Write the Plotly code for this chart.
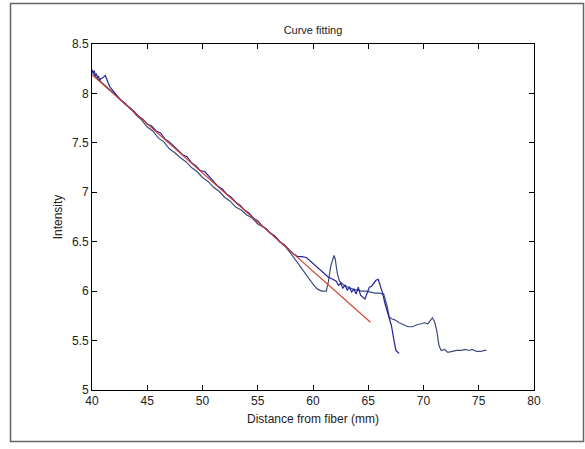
import plotly.graph_objects as go

# Fitted line
x_fit = [40.0, 65.2]
y_fit = [8.19, 5.685]

# Measured curve 1 (navy)
x1 = [40.0, 40.1, 40.2, 40.3, 40.4, 40.5, 40.6, 40.7, 40.8, 41.0, 41.2, 41.4, 41.6, 41.8,
      42.0, 42.3, 42.6, 43.0, 43.4, 43.8, 44.2, 44.6, 45.0, 45.4, 45.8, 46.2, 46.6, 47.0,
      47.4, 47.8, 48.2, 48.6, 49.0, 49.4, 49.8, 50.2, 50.6, 51.0, 51.4, 51.8, 52.2, 52.6,
      53.0, 53.4, 53.8, 54.2, 54.6, 55.0, 55.4, 55.8, 56.2, 56.6, 57.0, 57.4, 57.8, 58.2,
      58.6, 59.0, 59.4, 59.8, 60.2, 60.6, 61.0, 61.4, 61.8, 62.1, 62.3, 62.5, 62.7, 62.9,
      63.1, 63.3, 63.5, 63.7, 63.9, 64.1, 64.3, 64.5, 64.7, 64.9, 65.1, 65.3, 65.5, 65.7,
      65.9, 66.1, 66.3, 66.5, 66.7, 66.9, 67.1, 67.3, 67.5, 67.7, 67.8]
y1 = [8.24, 8.21, 8.23, 8.18, 8.20, 8.16, 8.17, 8.13, 8.15, 8.16, 8.18, 8.12, 8.07, 8.04,
      8.01, 7.97, 7.93, 7.90, 7.85, 7.82, 7.77, 7.74, 7.69, 7.67, 7.62, 7.60, 7.54, 7.51,
      7.47, 7.43, 7.38, 7.36, 7.30, 7.27, 7.22, 7.21, 7.16, 7.12, 7.06, 7.03, 6.98, 6.95,
      6.90, 6.87, 6.82, 6.79, 6.74, 6.71, 6.66, 6.63, 6.58, 6.55, 6.50, 6.47, 6.42, 6.38,
      6.35, 6.35, 6.34, 6.30, 6.26, 6.22, 6.18, 6.14, 6.12, 6.10, 6.06, 6.08, 6.03, 6.06,
      6.01, 6.04, 5.99, 6.02, 5.97, 6.04, 5.96, 5.94, 5.92, 5.98, 6.04, 6.05, 6.08, 6.11,
      6.12, 6.06, 5.98, 5.88, 5.80, 5.74, 5.65, 5.52, 5.40, 5.38, 5.37]

# Measured curve 2 (slate blue)
x2 = [40.0, 40.3, 40.6, 41.0, 41.5, 42.0, 42.5, 43.0, 43.5, 44.0, 44.5, 45.0, 45.5, 46.0,
      46.5, 47.0, 47.5, 48.0, 48.5, 49.0, 49.5, 50.0, 50.5, 51.0, 51.5, 52.0, 52.5, 53.0,
      53.5, 54.0, 54.5, 55.0, 55.5, 56.0, 56.5, 57.0, 57.5, 58.0, 58.5, 59.0, 59.5, 60.0,
      60.4, 60.8, 61.2, 61.4, 61.6, 61.8, 61.9, 62.0, 62.2, 62.4, 62.8, 63.2, 63.6, 64.0,
      64.4, 64.8, 65.2, 65.6, 66.0, 66.4, 66.7, 66.9, 67.1, 67.4, 67.8, 68.2, 68.6, 69.0,
      69.4, 69.8, 70.1, 70.4, 70.6, 70.8, 71.0, 71.2, 71.4, 71.6, 71.9, 72.2, 72.6, 73.0,
      73.4, 73.8, 74.1, 74.4, 74.8, 75.2, 75.5, 75.7]
y2 = [8.22, 8.17, 8.14, 8.10, 8.05, 7.99, 7.95, 7.89, 7.85, 7.78, 7.73, 7.66, 7.62, 7.55,
      7.51, 7.44, 7.40, 7.35, 7.31, 7.25, 7.21, 7.15, 7.11, 7.05, 7.01, 6.95, 6.91, 6.85,
      6.82, 6.77, 6.74, 6.68, 6.65, 6.60, 6.56, 6.50, 6.45, 6.38, 6.30, 6.22, 6.14, 6.07,
      6.02, 6.00, 6.00, 6.10, 6.25, 6.34, 6.36, 6.33, 6.18, 6.10, 6.06, 6.04, 6.02, 6.01,
      6.00, 6.00, 5.99, 5.98, 5.98, 5.97, 5.85, 5.74, 5.72, 5.71, 5.68, 5.66, 5.64, 5.64,
      5.66, 5.67, 5.68, 5.67, 5.70, 5.73, 5.69, 5.60, 5.45, 5.40, 5.41, 5.38, 5.39, 5.40,
      5.40, 5.41, 5.40, 5.41, 5.39, 5.39, 5.40, 5.40]

x_ticks = [40, 45, 50, 55, 60, 65, 70, 75, 80]
y_ticks = [5, 5.5, 6, 6.5, 7, 7.5, 8, 8.5]

FONT = "Liberation Sans"

fig = go.Figure()
fig.add_trace(go.Scatter(x=x2, y=y2, mode="lines", line=dict(color="#3d4b80", width=1.2)))
fig.add_trace(go.Scatter(x=x1, y=y1, mode="lines", line=dict(color="#22229a", width=1.2)))
fig.add_trace(go.Scatter(x=x_fit, y=y_fit, mode="lines", line=dict(color="#d0402a", width=1.1)))

L, R, T, B = 92, 51, 44, 59
W, H = 585, 449
pw, ph = W - L - R, H - T - B

def px_to_paper_x(px):
    return (px - L) / pw

def px_to_paper_y(py):
    return (H - B - py) / ph

fig.add_shape(type="rect", xref="paper", yref="paper",
              x0=px_to_paper_x(10.5), x1=px_to_paper_x(583.5),
              y0=px_to_paper_y(441.5), y1=px_to_paper_y(3.5),
              line=dict(color="#666666", width=1.5), layer="below")

axis_common = dict(
    showline=True, linecolor="black", linewidth=1, mirror="allticks",
    ticks="inside", ticklen=5, tickcolor="black", showgrid=False, zeroline=False,
    tickfont=dict(family=FONT, size=12, color="#222222"),
)

fig.update_layout(
    width=W, height=H,
    margin=dict(l=L, r=R, t=T, b=B),
    paper_bgcolor="white", plot_bgcolor="white",
    showlegend=False,
    title=dict(text="Curve fitting", x=(L + pw / 2) / W, xanchor="center",
               y=1 - 30 / H, yanchor="middle",
               font=dict(family=FONT, size=11, color="#222222")),
    xaxis=dict(range=[40, 80], tickvals=x_ticks, ticktext=[str(v) for v in x_ticks],
               title=dict(text="Distance from fiber (mm)", standoff=7,
                          font=dict(family=FONT, size=12, color="#222222")),
               **axis_common),
    yaxis=dict(range=[5, 8.5], tickvals=y_ticks, ticktext=[f"{v:g}" for v in y_ticks],
               title=dict(text="Intensity", standoff=6,
                          font=dict(family=FONT, size=12, color="#222222")),
               **axis_common),
)

fig.write_html("out.html")
